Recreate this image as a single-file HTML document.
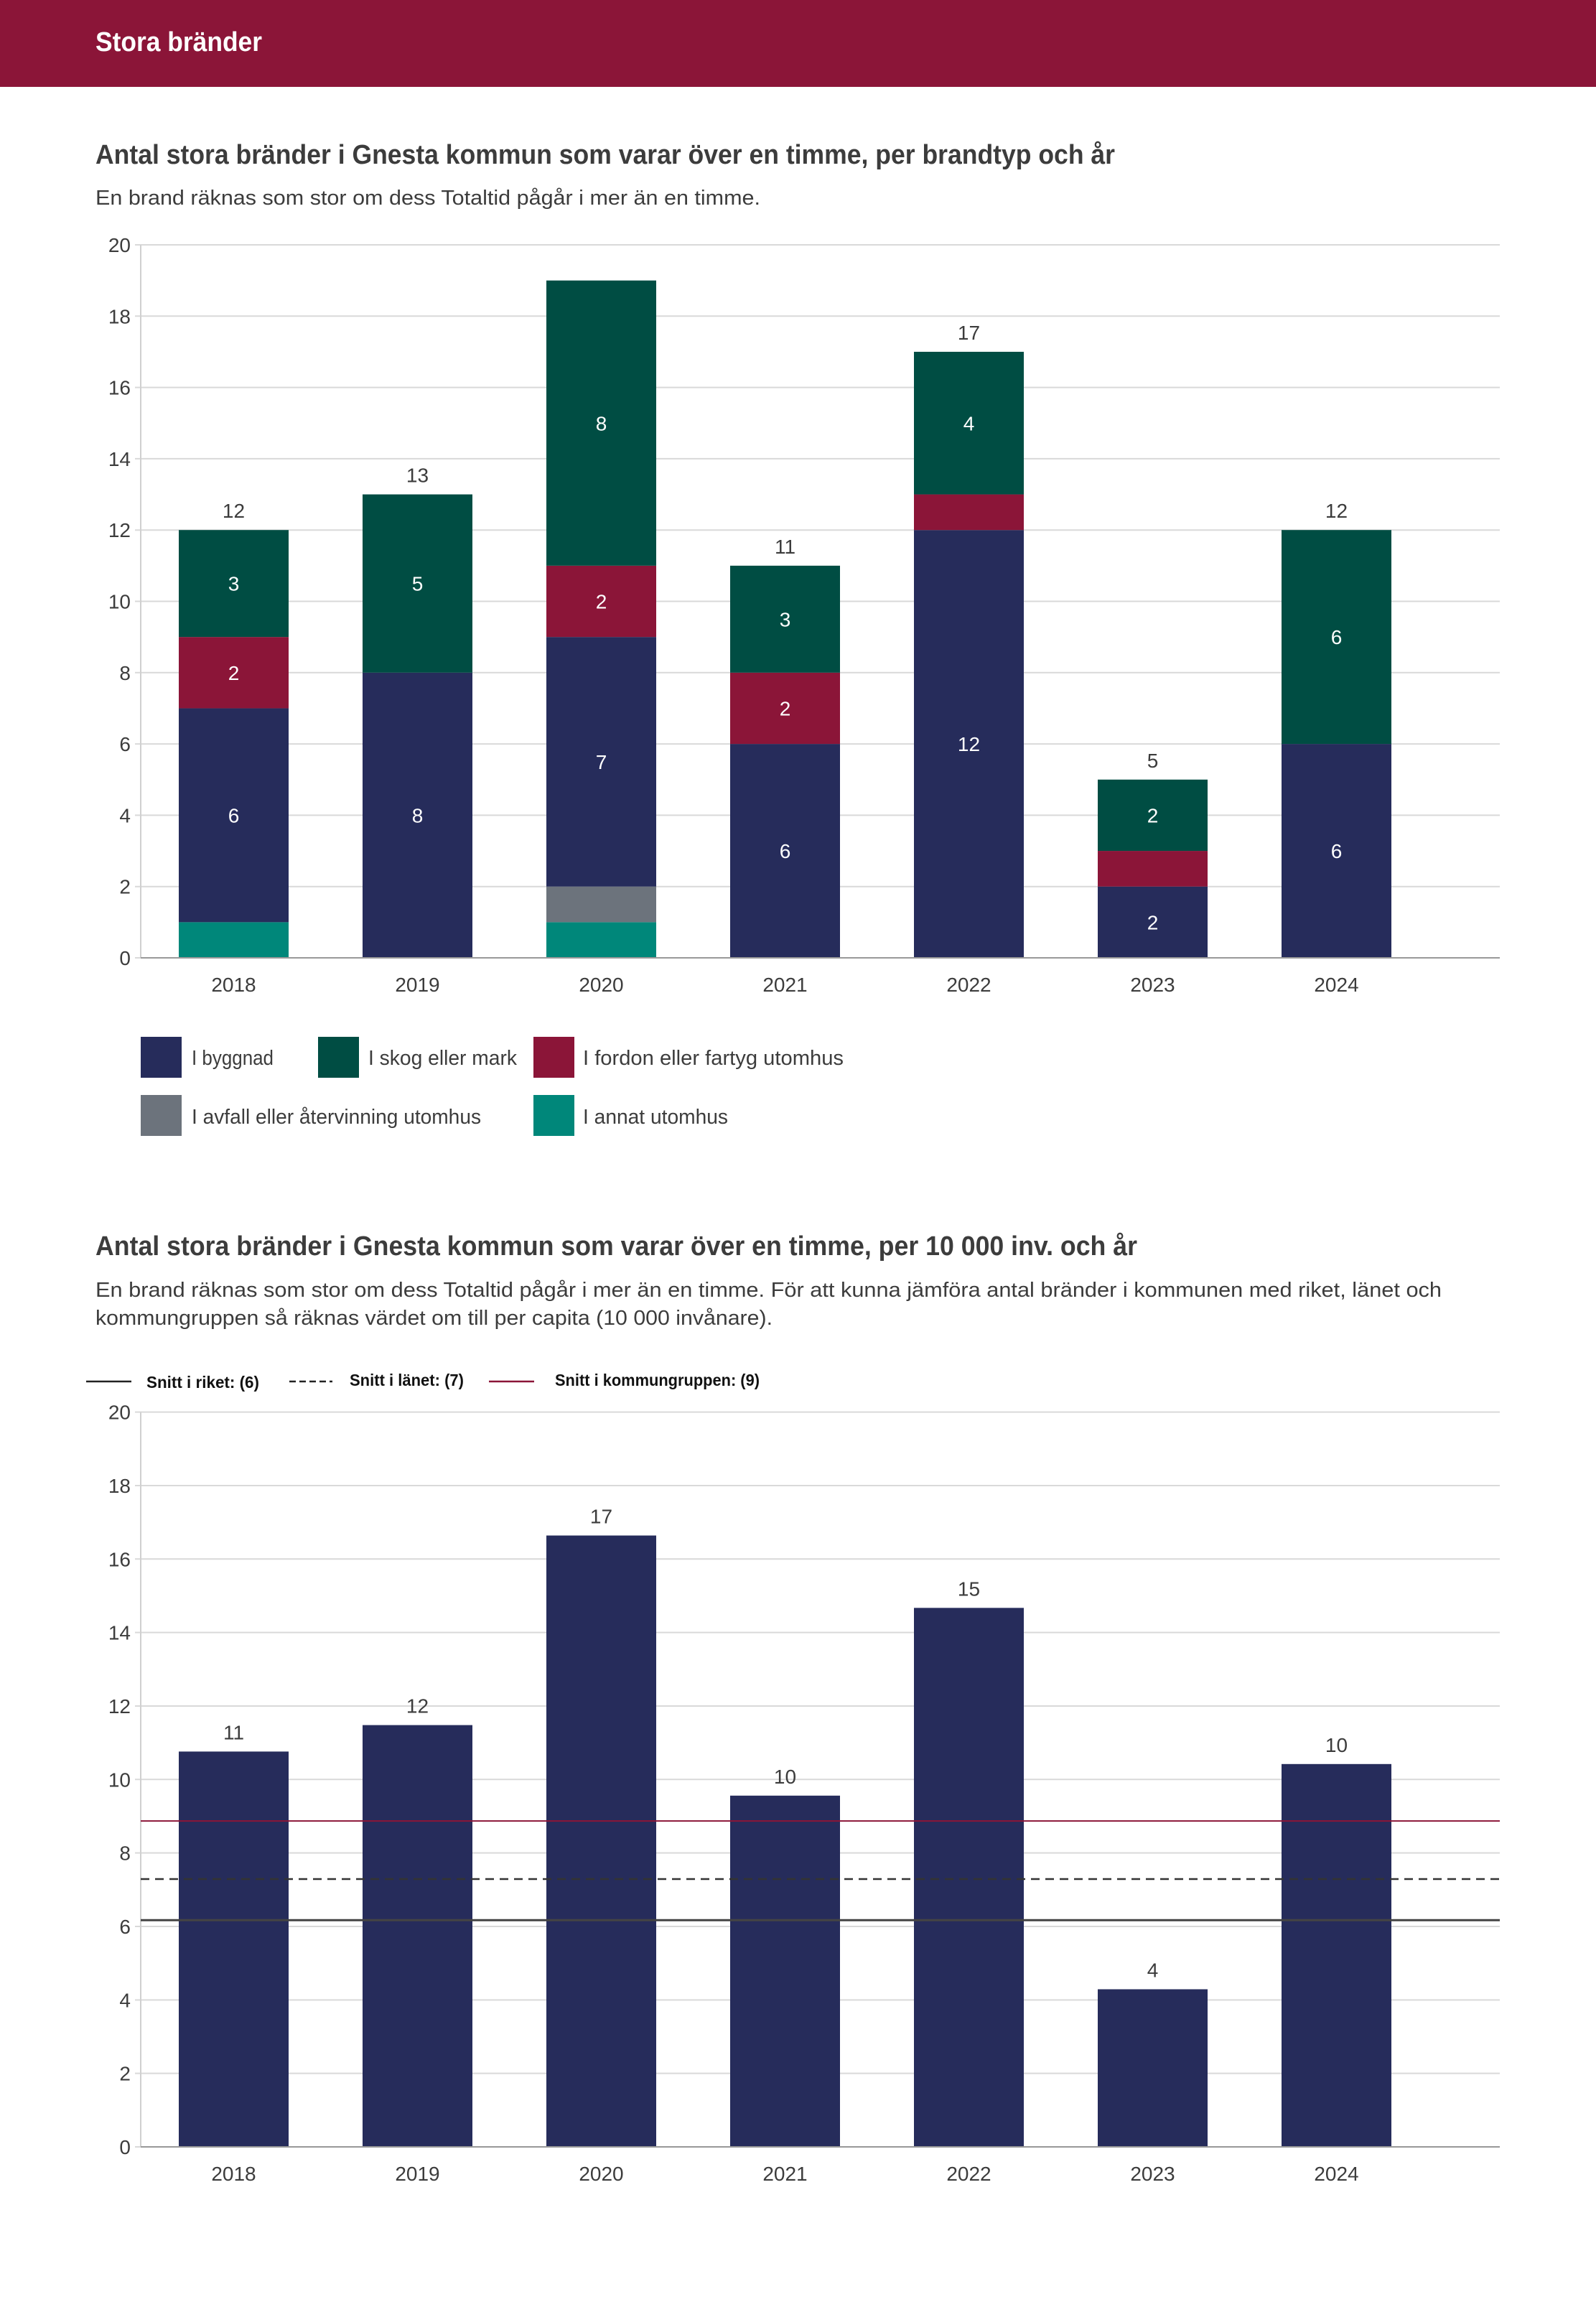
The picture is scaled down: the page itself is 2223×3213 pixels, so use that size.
<!DOCTYPE html>
<html><head><meta charset="utf-8"><style>
html,body{margin:0;padding:0;background:#fff}
svg{display:block}
text{font-family:"Liberation Sans",sans-serif;fill:#3c3c3c}
</style></head><body>
<svg id="page" width="2223" height="3213" viewBox="0 0 2223 3213" xmlns="http://www.w3.org/2000/svg">
<rect x="0" y="0" width="2223" height="121" fill="#8B1538"/>
<text x="133" y="71" font-size="38" font-weight="bold" style="fill:#fff" textLength="232" lengthAdjust="spacingAndGlyphs">Stora bränder</text>

<text x="133" y="228" font-size="38" font-weight="bold" textLength="1420" lengthAdjust="spacingAndGlyphs">Antal stora bränder i Gnesta kommun som varar över en timme, per brandtyp och år</text>
<text x="133" y="285" font-size="29" textLength="926" lengthAdjust="spacingAndGlyphs">En brand räknas som stor om dess Totaltid pågår i mer än en timme.</text>
<g id="chart1"></g>

<g>
<rect x="196" y="1444" width="57" height="57" fill="#262C5B"/>
<text x="267" y="1483" font-size="29" textLength="114" lengthAdjust="spacingAndGlyphs">I byggnad</text>
<rect x="443" y="1444" width="57" height="57" fill="#004D43"/>
<text x="513" y="1483" font-size="29" textLength="207" lengthAdjust="spacingAndGlyphs">I skog eller mark</text>
<rect x="743" y="1444" width="57" height="57" fill="#8B1538"/>
<text x="812" y="1483" font-size="29" textLength="363" lengthAdjust="spacingAndGlyphs">I fordon eller fartyg utomhus</text>
<rect x="196" y="1525" width="57" height="57" fill="#6C737C"/>
<text x="267" y="1565" font-size="29" textLength="403" lengthAdjust="spacingAndGlyphs">I avfall eller återvinning utomhus</text>
<rect x="743" y="1525" width="57" height="57" fill="#00877A"/>
<text x="812" y="1565" font-size="29" textLength="202" lengthAdjust="spacingAndGlyphs">I annat utomhus</text>
</g>

<text x="133" y="1748" font-size="38" font-weight="bold" textLength="1451" lengthAdjust="spacingAndGlyphs">Antal stora bränder i Gnesta kommun som varar över en timme, per 10 000 inv. och år</text>
<text x="133" y="1806" font-size="29" textLength="1875" lengthAdjust="spacingAndGlyphs">En brand räknas som stor om dess Totaltid pågår i mer än en timme. För att kunna jämföra antal bränder i kommunen med riket, länet och</text>
<text x="133" y="1845" font-size="29" textLength="943" lengthAdjust="spacingAndGlyphs">kommungruppen så räknas värdet om till per capita (10 000 invånare).</text>

<g>
<line x1="120" y1="1924" x2="183" y2="1924" stroke="#222" stroke-width="2.5"/>
<text x="204" y="1933" font-size="23" font-weight="bold" style="fill:#111" textLength="157" lengthAdjust="spacingAndGlyphs">Snitt i riket: (6)</text>
<line x1="403" y1="1924" x2="463" y2="1924" stroke="#222" stroke-width="2.5" stroke-dasharray="9,5"/>
<text x="487" y="1930" font-size="23" font-weight="bold" style="fill:#111" textLength="159" lengthAdjust="spacingAndGlyphs">Snitt i länet: (7)</text>
<line x1="681" y1="1924" x2="744" y2="1924" stroke="#8B1538" stroke-width="2.5"/>
<text x="773" y="1930" font-size="23" font-weight="bold" style="fill:#111" textLength="285" lengthAdjust="spacingAndGlyphs">Snitt i kommungruppen: (9)</text>
</g>
<g id="chart2"></g>
</svg>
<script>
const years = ["2018","2019","2020","2021","2022","2023","2024"];
const annat   = [1,0,1,0,0,0,0];
const avfall  = [0,0,1,0,0,0,0];
const byggnad = [6,8,7,6,12,2,6];
const fordon  = [2,0,2,2,1,1,0];
const skog    = [3,5,8,3,4,2,6];
const yTicks1 = [0,2,4,6,8,10,12,14,16,18,20];

const perCapita = [10.76,11.48,16.64,9.56,14.67,4.29,10.42];
const perCapitaLabels = ["11","12","17","10","15","4","10"];
const avgRiket = 6.17;
const avgLanet = 7.29;
const avgKommungrupp = 8.87;
const yTicks2 = [0,2,4,6,8,10,12,14,16,18,20];

const NS = "http://www.w3.org/2000/svg";
function mk(tag, attrs, parent){const e=document.createElementNS(NS,tag);for(const k in attrs)e.setAttribute(k,attrs[k]);parent.appendChild(e);return e;}
const X0=196, X1=2089, STEP=256, BW=153, FIRST=325.5;
function xc(i){return FIRST+i*STEP;}

function axes(g, y0, unit, ticks){
  const yf = v => y0 - v*unit;
  ticks.forEach(t=>{
    const l=mk('line',{x1:X0-8,x2:X1,y1:yf(t),y2:yf(t),stroke:'#d9d9d9','stroke-width':2},g);
    
    
    const tx=mk('text',{x:182,y:yf(t)+10,'font-size':28,'text-anchor':'end'},g);
    tx.textContent=t;
    
    
  });
  const ax=mk('line',{x1:X0,x2:X0,y1:yf(ticks[ticks.length-1]),y2:y0,stroke:'#d0d0d0','stroke-width':2},g);
  
  
  years.forEach((yr,i)=>{
    const tx=mk('text',{x:xc(i),y:y0+47,'font-size':28,'text-anchor':'middle'},g);
    tx.textContent=yr;
    
    
  });
  return yf;
}

// Chart 1
(function(){
  const g=document.getElementById('chart1');
  const y0=1334, unit=49.65;
  const yMax=yTicks1[yTicks1.length-1];
  const yf=axes(g,y0,unit,yTicks1);
  const series=[["annat",annat,"#00877A"],["avfall",avfall,"#6C737C"],["byggnad",byggnad,"#262C5B"],["fordon",fordon,"#8B1538"],["skog",skog,"#004D43"]];
  years.forEach((yr,i)=>{
    let base=0;
    series.forEach(([nm,arr,col])=>{
      const v=arr[i]; if(!v) return;
      const r=mk('rect',{x:xc(i)-BW/2,y:yf(base+v),width:BW,height:v*unit,fill:col},g);
      
      
      if(v>=2){
        const t=mk('text',{x:xc(i),y:yf(base+v/2)+10,'font-size':28,'text-anchor':'middle',style:'fill:#fff'},g);
        t.textContent=v;
        
        
      }
      base+=v;
    });
    if(yf(base)-60 >= yf(yMax)){
      const t=mk('text',{x:xc(i),y:yf(base)-17,'font-size':28,'text-anchor':'middle'},g);
      t.textContent=base;
      
      
    }
  });
  const b=mk('line',{x1:X0,x2:X1,y1:y0,y2:y0,stroke:'#999','stroke-width':2},g);
  
  
})();

// Chart 2
(function(){
  const g=document.getElementById('chart2');
  const y0=2990, unit=51.17;
  const yf=axes(g,y0,unit,yTicks2);
  years.forEach((yr,i)=>{
    const v=perCapita[i];
    const r=mk('rect',{x:xc(i)-BW/2,y:yf(v),width:BW,height:v*unit,fill:'#262C5B'},g);
    
    
    const t=mk('text',{x:xc(i),y:yf(v)-17,'font-size':28,'text-anchor':'middle'},g);
    t.textContent=perCapitaLabels[i];
    
    
  });
  const l1=mk('line',{x1:X0,x2:X1,y1:yf(avgKommungrupp),y2:yf(avgKommungrupp),stroke:'#8B1538','stroke-width':2},g);
  
  
  const l2=mk('line',{x1:X0,x2:X1,y1:yf(avgLanet),y2:yf(avgLanet),stroke:'#333','stroke-width':2.5,'stroke-dasharray':'12,8'},g);
  
  
  const l3=mk('line',{x1:X0,x2:X1,y1:yf(avgRiket),y2:yf(avgRiket),stroke:'#444','stroke-width':3},g);
  
  
  const b=mk('line',{x1:X0,x2:X1,y1:y0,y2:y0,stroke:'#999','stroke-width':2},g);
  
  
})();
</script>
</body></html>
